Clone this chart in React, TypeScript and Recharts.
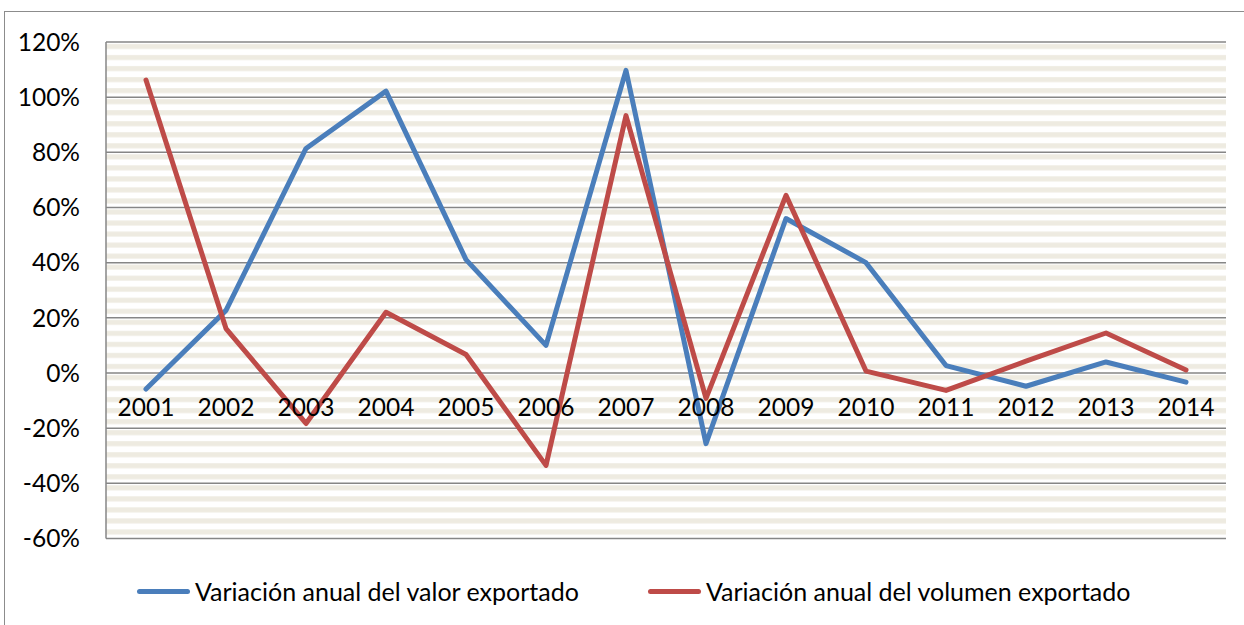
import { CartesianGrid, Legend, Line, LineChart, XAxis, YAxis } from "recharts";

const years = ["2001", "2002", "2003", "2004", "2005", "2006", "2007", "2008", "2009", "2010", "2011", "2012", "2013", "2014"];
const valorExportado = [-5.8, 22.7, 81.4, 102.2, 41.1, 10.0, 109.7, -25.6, 56.0, 40.0, 2.7, -4.8, 4.0, -3.3];
const volumenExportado = [106.2, 16.1, -18.3, 22.0, 6.7, -33.5, 93.3, -9.2, 64.4, 0.7, -6.3, 4.3, 14.5, 1.1];
const yTicks = [-60, -40, -20, 0, 20, 40, 60, 80, 100, 120];

const seriesNames = {
  valor: "Variación anual del valor exportado",
  volumen: "Variación anual del volumen exportado"
};

const data = years.map((year, i) => ({
  year,
  valor: valorExportado[i],
  volumen: volumenExportado[i]
}));

const WIDTH = 1244;
const HEIGHT = 625;
const X_AXIS_HEIGHT = 30;
const LEGEND_HEIGHT = 30;
const PLOT_TOP = 42;
const PLOT_BOTTOM = 538.5;
// the legend box is added to the bottom offset by recharts, so take it out here
const MARGIN = { top: PLOT_TOP, right: 18, bottom: HEIGHT - PLOT_BOTTOM - X_AXIS_HEIGHT - LEGEND_HEIGHT, left: 0 };
const Y_AXIS_WIDTH = 106;
const Y_MIN = -60;
const Y_MAX = 120;
const PLOT_H = PLOT_BOTTOM - PLOT_TOP;
const PLOT_W = WIDTH - MARGIN.left - MARGIN.right - Y_AXIS_WIDTH;
const CAT_PAD = PLOT_W / years.length / 2;
const ZERO_Y = PLOT_TOP + (PLOT_H * Y_MAX) / (Y_MAX - Y_MIN);
const FONT = "Lato, 'Liberation Sans', sans-serif";
const FONT_SIZE = 24.5;
const BLUE = "#4A7EBB";
const RED = "#BE4B48";
const GRID = "#868686";

// categories sit right under the 0% line, like Excel's crossing axis
function YearTick({ x, payload }: { x?: number; payload?: { value: string } }) {
  return (
    <text x={x} y={ZERO_Y + 43} textAnchor="middle" fill="#000" fontSize={FONT_SIZE} fontFamily={FONT}>
      {payload?.value}
    </text>
  );
}

function ChartLegend() {
  const items = [
    { name: seriesNames.valor, color: BLUE, left: 137 },
    { name: seriesNames.volumen, color: RED, left: 648 }
  ];
  return (
    <div style={{ position: "relative", height: LEGEND_HEIGHT, fontFamily: FONT, fontSize: 25, color: "#000" }}>
      {items.map((item) => (
        <div key={item.name} style={{ position: "absolute", left: item.left, top: 0, display: "flex", alignItems: "center", whiteSpace: "nowrap" }}>
          <span style={{ display: "inline-block", width: 53, height: 5, borderRadius: 3, background: item.color, marginRight: 5 }} />
          <span>{item.name}</span>
        </div>
      ))}
    </div>
  );
}

export default function App() {
  return (
    <div style={{ position: "absolute", left: 0, top: 0, width: WIDTH, height: HEIGHT, overflow: "hidden", background: "#fff" }}>
      <div style={{ position: "absolute", left: 4, top: 11, width: WIDTH + 20, height: HEIGHT + 20, border: "1px solid #8c8c8c" }} />
      <div style={{ position: "absolute", left: 0, top: 0 }}>
        <LineChart width={WIDTH} height={HEIGHT} data={data} margin={MARGIN}>
          <defs>
            <pattern id="stripes" patternUnits="userSpaceOnUse" x={0} y={PLOT_TOP} width={20} height={PLOT_H / 45}>
              <rect x={0} y={0} width={20} height={PLOT_H / 45} fill="#ffffff" />
              <rect x={0} y={2} width={20} height={5} fill="#eeebe1" />
            </pattern>
          </defs>
          <CartesianGrid vertical={false} stroke={GRID} strokeWidth={1.5} fill="url(#stripes)" fillOpacity={1} />
          <XAxis
            dataKey="year"
            height={X_AXIS_HEIGHT}
            axisLine={false}
            tickLine={false}
            tick={<YearTick />}
            interval={0}
            padding={{ left: CAT_PAD, right: CAT_PAD }}
          />
          <YAxis
            width={Y_AXIS_WIDTH}
            domain={[Y_MIN, Y_MAX]}
            ticks={yTicks}
            interval={0}
            tickFormatter={(v: number) => `${v}%`}
            axisLine={{ stroke: GRID, strokeWidth: 1.5 }}
            tickLine={false}
            tickSize={0}
            tickMargin={26}
            tick={{ fill: "#000", fontSize: FONT_SIZE, fontFamily: FONT }}
          />
          <Legend
            content={<ChartLegend />}
            wrapperStyle={{ position: "absolute", left: 0, top: 576, width: WIDTH }}
          />
          <Line
            dataKey="valor"
            name={seriesNames.valor}
            stroke={BLUE}
            strokeWidth={5}
            strokeLinecap="round"
            strokeLinejoin="round"
            dot={false}
            activeDot={false}
            type="linear"
            isAnimationActive={false}
          />
          <Line
            dataKey="volumen"
            name={seriesNames.volumen}
            stroke={RED}
            strokeWidth={5}
            strokeLinecap="round"
            strokeLinejoin="round"
            dot={false}
            activeDot={false}
            type="linear"
            isAnimationActive={false}
          />
        </LineChart>
      </div>
    </div>
  );
}
